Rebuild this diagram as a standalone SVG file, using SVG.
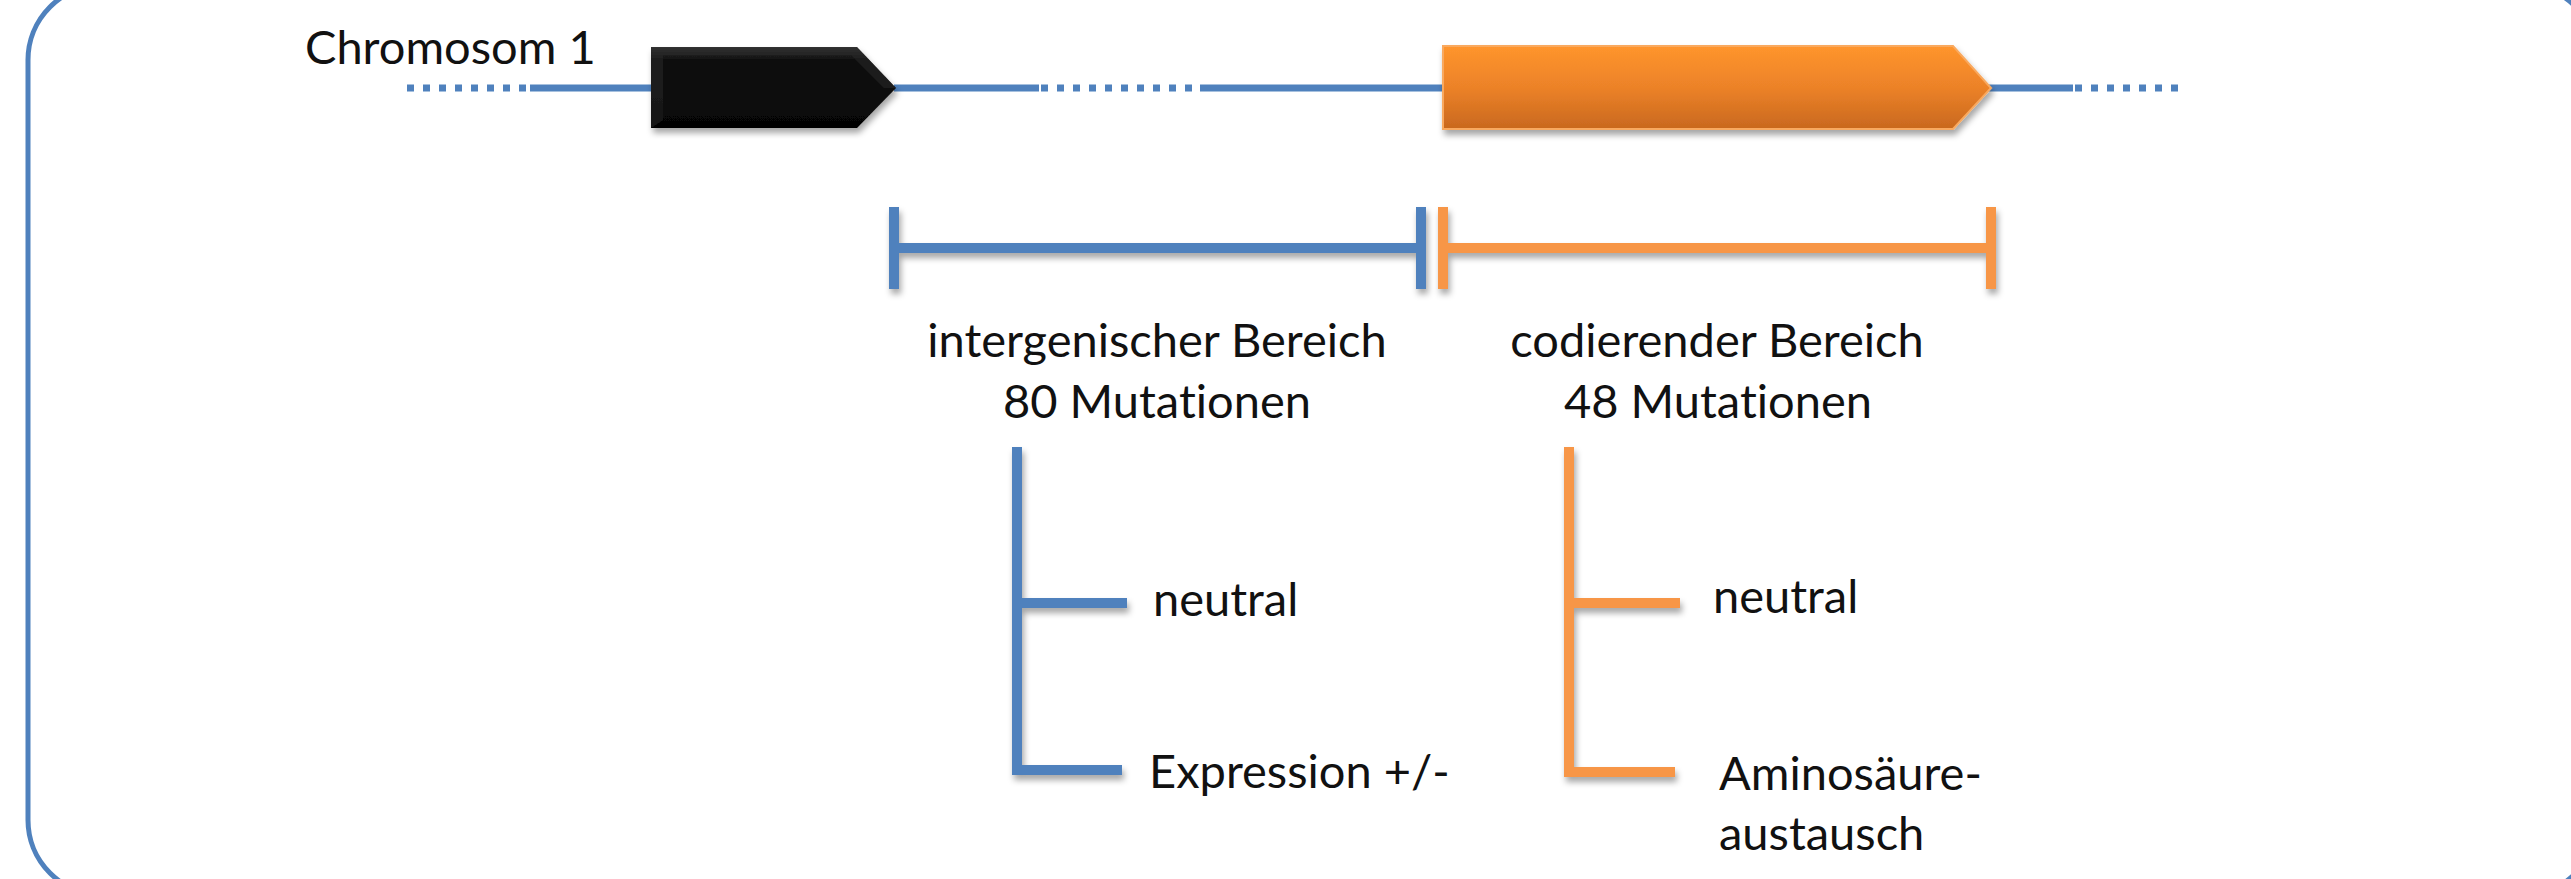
<svg xmlns="http://www.w3.org/2000/svg" width="2571" height="879" viewBox="0 0 2571 879">
<defs>
<style>
.t{font-family:Lato,"Liberation Sans",sans-serif;font-size:47px;fill:#111;font-variant-ligatures:none;font-feature-settings:"liga" 0,"clig" 0}
.c{text-anchor:middle}
.blue{stroke:#4F81BD;fill:none}
.orange{stroke:#F79646;fill:none}
.br{stroke-width:10;stroke-linecap:butt}
.chr{stroke:#4F81BD;stroke-width:7;fill:none}
.dot{stroke-dasharray:7 9}
</style>
<linearGradient id="gOr" x1="0" y1="0" x2="0" y2="1">
<stop offset="0" stop-color="#FF952D"/>
<stop offset="0.5" stop-color="#EC8228"/>
<stop offset="1" stop-color="#C9681E"/>
</linearGradient>
<linearGradient id="gBl" x1="0" y1="0" x2="0" y2="1">
<stop offset="0" stop-color="#3a3a3a"/>
<stop offset="0.15" stop-color="#101010"/>
<stop offset="1" stop-color="#050505"/>
</linearGradient>
<filter id="sh" x="-10%" y="-30%" width="120%" height="180%">
<feDropShadow dx="2" dy="5" stdDeviation="3" flood-color="#000" flood-opacity="0.35"/>
</filter>
</defs>
<rect width="2571" height="879" fill="#fff"/>
<rect id="frame" x="28" y="-15" width="2570" height="910" rx="75" ry="75" fill="none" stroke="#4F81BD" stroke-width="5"/>

<g id="connectors">
<line class="chr dot" x1="407" y1="88" x2="530" y2="88"/>
<line class="chr" x1="530" y1="88" x2="655" y2="88"/>
<line class="chr" x1="894" y1="88" x2="1039" y2="88"/>
<line class="chr dot" x1="1041" y1="88" x2="1195" y2="88"/>
<line class="chr" x1="1200" y1="88" x2="1446" y2="88"/>
<line class="chr" x1="1988" y1="88" x2="2073" y2="88"/>
<line class="chr dot" x1="2075" y1="88" x2="2178" y2="88"/>
</g>

<g id="label-chromosom">
<text class="t" x="305" y="64">Chromosom 1</text>
</g>

<g id="gene-black" filter="url(#sh)">
<polygon points="651,47 857,47 896,88 857,128 651,128" fill="url(#gBl)"/>
<polygon points="651,47 857,47 896,88 884,88 851,55 663,55 663,120 651,128" fill="#2a2a2a" opacity="0.5"/>
</g>

<g id="gene-orange" filter="url(#sh)">
<polygon points="1443,46 1953,46 1991,88 1953,129 1443,129" fill="url(#gOr)" stroke="#F9A95F" stroke-width="2"/>
</g>

<g id="bracket-intergenic" filter="url(#sh)">
<line class="blue br" x1="894" y1="248" x2="1421" y2="248"/>
<line class="blue br" x1="894" y1="207" x2="894" y2="289"/>
<line class="blue br" x1="1421" y1="207" x2="1421" y2="289"/>
</g>

<g id="bracket-coding" filter="url(#sh)">
<line class="orange br" x1="1443" y1="248" x2="1991" y2="248"/>
<line class="orange br" x1="1443" y1="207" x2="1443" y2="289"/>
<line class="orange br" x1="1991" y1="207" x2="1991" y2="289"/>
</g>

<g id="label-intergenic">
<text class="t c" x="1157" y="357">intergenischer Bereich</text>
<text class="t c" x="1157" y="418">80 Mutationen</text>
</g>

<g id="label-coding">
<text class="t c" x="1717" y="357">codierender Bereich</text>
<text class="t c" x="1718" y="418">48 Mutationen</text>
</g>

<g id="tree-intergenic" filter="url(#sh)">
<line class="blue br" x1="1017" y1="447" x2="1017" y2="775"/>
<line class="blue br" x1="1017" y1="603" x2="1127" y2="603"/>
<line class="blue br" x1="1012" y1="770" x2="1122" y2="770"/>
</g>

<g id="tree-coding" filter="url(#sh)">
<line class="orange br" x1="1569" y1="447" x2="1569" y2="777"/>
<line class="orange br" x1="1569" y1="603" x2="1680" y2="603"/>
<line class="orange br" x1="1564" y1="772" x2="1675" y2="772"/>
</g>

<g id="label-neutral-1"><text class="t" x="1153" y="616">neutral</text></g>
<g id="label-expression"><text class="t" x="1149" y="788">Expression +/-</text></g>
<g id="label-neutral-2"><text class="t" x="1713" y="613">neutral</text></g>
<g id="label-amino"><text class="t" x="1719" y="790">Aminosäure-</text><text class="t" x="1719" y="850">austausch</text></g>
</svg>
